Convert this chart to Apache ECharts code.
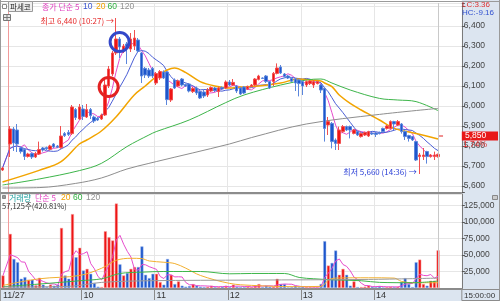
<!DOCTYPE html>
<html><head><meta charset="utf-8">
<script src="https://cdn.jsdelivr.net/npm/echarts@6/dist/echarts.min.js"></script>
<style>html,body{margin:0;padding:0;background:#fff}#c{width:500px;height:301px}</style>
</head><body><div id="c"></div>
<script>
// ---- data ----
const hourLabels = {0:'11/27', 22:'10', 42:'11', 62:'12', 82:'13', 102:'14'};
const dayStartIndex = 2;
// [open, close, low, high]  (k0 = previous bar, k1 = gap)
const ohlc = [
[5680,5690,5675,5695], null,
[5810,5885,5745,5900],[5885,5815,5775,5895],[5880,5810,5770,5910],[5790,5772,5762,5798],
[5783,5748,5730,5790],[5748,5760,5742,5766],[5762,5745,5735,5768],[5745,5762,5740,5770],
[5760,5782,5755,5822],[5790,5780,5772,5795],[5792,5786,5780,5797],[5784,5800,5778,5806],
[5810,5795,5790,5815],[5800,5794,5790,5805],[5792,5850,5786,5900],[5862,5852,5845,5870],
[5868,5858,5850,5880],[5862,5995,5855,6005],[5982,5942,5930,5990],[5935,5995,5930,6010],
[5985,5948,5930,6005],[5945,5982,5940,6010],[5982,5952,5935,5990],[5945,5925,5915,5952],
[5938,5930,5925,5945],[5935,5955,5930,5962],[5955,6105,5950,6135],[6100,6185,6090,6200],
[6160,6265,6150,6275],[6265,6335,6255,6440],[6335,6295,6240,6345],[6275,6300,6265,6310],
[6310,6290,6210,6320],[6285,6335,6270,6365],[6300,6340,6280,6380],[6330,6275,6265,6340],
[6265,6150,6115,6270],[6188,6155,6140,6195],[6180,6150,6140,6190],[6188,6150,6140,6195],
[6115,6162,6105,6170],[6140,6172,6130,6180],[6170,6140,6135,6178],[6170,6032,6005,6175],
[6030,6085,6020,6090],[6130,6090,6085,6138],[6100,6125,6095,6132],[6135,6105,6098,6140],
[6108,6100,6095,6112],[6110,6075,6068,6115],[6072,6088,6065,6095],[6090,6065,6055,6097],
[6072,6040,6035,6078],[6070,6050,6040,6080],[6055,6080,6045,6090],[6075,6092,6070,6098],
[6090,6078,6070,6095],[6072,6090,6045,6097],[6092,6085,6080,6098],[6090,6120,6085,6128],
[6120,6105,6100,6130],[6105,6118,6100,6135],[6100,6075,6065,6105],[6090,6060,6055,6095],
[6095,6065,6060,6100],[6085,6098,6080,6102],[6098,6105,6095,6110],[6105,6135,6100,6140],
[6133,6150,6128,6156],[6140,6138,6135,6143],[6150,6122,6115,6155],[6122,6090,6085,6125],
[6122,6163,6100,6170],[6163,6190,6158,6213],[6195,6165,6160,6205],[6160,6148,6143,6165],
[6150,6140,6135,6155],[6138,6124,6120,6142],[6135,6115,6075,6140],[6130,6112,6048,6135],
[6122,6100,6055,6128],[6105,6122,6095,6128],[6112,6125,6105,6130],[6105,6122,6090,6130],
[6112,6122,6108,6126],[6105,6080,6065,6110],[6088,5888,5822,6092],[5905,5922,5855,5945],
[5913,5822,5788,5920],[5830,5813,5780,5838],[5813,5880,5780,5897],[5872,5897,5865,5905],
[5897,5880,5875,5902],[5897,5880,5838,5902],[5863,5880,5858,5885],[5872,5855,5850,5878],
[5847,5863,5842,5868],[5855,5867,5850,5872],[5850,5872,5845,5876],[5865,5860,5855,5870],
[5865,5858,5845,5870],[5868,5862,5858,5872],[5888,5872,5868,5892],[5888,5900,5882,5905],
[5888,5922,5882,5928],[5922,5910,5880,5926],[5905,5922,5900,5930],[5910,5872,5862,5915],
[5872,5847,5830,5878],[5852,5838,5822,5856],[5847,5830,5825,5850],[5822,5730,5725,5826],
[5747,5755,5660,5765],[5747,5755,5730,5790],[5772,5747,5712,5776],[5747,5755,5742,5760],
[5747,5755,5730,5772],[5747,5758,5742,5762]
];
const volumes = [
19000,null,82000,44000,39000,14000,16500,12600,12600,4000,
15500,5000,1500,5000,3500,5000,91000,19000,14000,112000,
46700,61000,26500,29000,21500,7500,2000,1500,86000,77000,
72000,128000,35900,19000,22700,29000,31800,31800,63000,20000,
15000,21500,21500,9000,5000,44000,20000,6000,10000,3500,
2000,3000,6000,3500,2000,1500,2000,3500,1500,1500,
2000,3500,1500,5000,2000,1500,1500,2000,1500,3500,
6000,1500,3500,2000,2000,14000,6000,6000,1000,1500,
3500,1500,2000,1500,1500,1000,1000,6000,71000,34000,
38000,56800,20000,29000,20000,3500,10000,1500,1500,2000,
3500,2000,1500,3000,1000,1500,2000,1500,2000,9000,
15000,6000,1500,39000,43000,6000,3500,11000,11000,57125
];
// moving averages: [barIndex, value]
const ma20Pts = [[0,5620],[10,5678],[16,5722],[21,5810],[23,5830],[27,5875],[31,5945],[36,6055],[39,6100],[42,6147],[45,6180],[47,6190],[50,6168],[54,6122],[58,6100],[62,6090],[65,6095],[70,6100],[76,6115],[81,6135],[84,6130],[87,6125],[88,6115],[90,6097],[92,6055],[95,6013],[98,5980],[101,5950],[103,5930],[107,5888],[113,5863],[119,5835]];
const ma60Pts = [[0,5605],[10,5635],[21,5677],[27,5713],[34,5797],[40,5855],[42,5872],[51,5930],[61,6017],[66,6055],[76,6105],[83,6130],[87,6135],[90,6115],[95,6080],[103,6038],[108,6030],[113,6022],[119,5977]];
const ma120Pts = [[0,5590],[10,5592],[20,5613],[27,5640],[34,5685],[40,5713],[42,5722],[62,5810],[68,5842],[83,5910],[103,5958],[119,5988]];
const volMa20Pts = [[0,4000],[10,14000],[21,19000],[27,30000],[31,42000],[35,45000],[38,44500],[40,41000],[44,39000],[47,37000],[50,30000],[54,19000],[62,7000],[68,4000],[80,2000],[87,2500],[89,12000],[91,15000],[100,15500],[107,15000],[109,10000],[112,8000],[119,8000]];
const volMa60Pts = [[0,2000],[10,6000],[21,11000],[27,14000],[32,22000],[38,24000],[44,25000],[54,25000],[62,21500],[68,22000],[77,22000],[81,16000],[85,14000],[90,12500],[98,11000],[103,8500],[112,8000],[119,10500]];
const volMa120Pts = [[0,1500],[18,2500],[27,8500],[40,11000],[68,12000],[100,13000],[119,15000]];
const highInfo = {idx:31, price:6440, text:'최고 6,440 (10:27) →'};
const lowInfo = {idx:114, price:5660, text:'최저 5,660 (14:36) →'};
const currentPrice = 5850;
const priceLabelText = '5,850', pctText = '1.74%';
const lcText = 'LC:3.36', hcText = 'HC:-9.16';
const volInfoText = '57,125주(420.81%)';
const timeText = '15:00:00';

// ---- build ----
const N = 126;
const cats = [];
for (let k = 0; k < N; k++) {
  if (k === 0) cats.push('11/27 15:30');
  else if (k === 1) cats.push('11/28');
  else { const m = 540 + (k - 2) * 3; cats.push(String(Math.floor(m/60)).padStart(2,'0') + ':' + String(m%60).padStart(2,'0')); }
}
function sma(vals, n) {
  const out = [], buf = [];
  for (const v of vals) {
    if (v == null) { out.push('-'); continue; }
    buf.push(v); if (buf.length > n) buf.shift();
    out.push(Math.round(buf.reduce((a,b)=>a+b,0) / buf.length * 10) / 10);
  }
  return out;
}
const closes = ohlc.map(d => d ? d[1] : null);
const ma5 = sma(closes, 5), ma10 = sma(closes, 10);
const volMa5 = sma(volumes, 5);
const UP = '#ee1515', DOWN = '#1d56cc';
const volData = volumes.map((v,i) => v == null ? {value:'-'} : ({value:v, itemStyle:{
  color: (ohlc[i] && ohlc[i][1] >= ohlc[i][0]) ? UP : DOWN,
  borderColor: (ohlc[i] && ohlc[i][1] >= ohlc[i][0]) ? '#f7a6a6' : '#9cb8ec', borderWidth:0.5}}));
const candleData = ohlc.map(d => d ? d : ['-','-','-','-']);

const hourSet = new Set([22,42,62,82,102]);
const splitIdx = (i) => i === dayStartIndex || hourSet.has(i);
const splitColors = ['#f19a9a'].concat(new Array(12).fill('#e6e6e6'));
const fmt = v => String(v).replace(/\B(?=(\d{3})+(?!\d))/g, ',');
const KF = '"Noto Sans CJK KR", sans-serif';
const NF = '"Liberation Sans", Arial, sans-serif';

const gridL = 0.67, gridW = N * 3.66;
const lineS = (name, data, color, xi, yi, w, smooth) => ({
  name, type:'line', data, xAxisIndex:xi, yAxisIndex:yi, showSymbol:false, symbol:'none',
  connectNulls:true, smooth: smooth || false, silent:true, animation:false,
  lineStyle:{color, width:w||1}, z:3
});

const chart = echarts.init(document.getElementById('c'), null, {renderer:'canvas', width:500, height:301});
const option = {
  animation:false,
  backgroundColor:'#ffffff',
  grid:[
    {left:gridL, width:gridW, top:3, height:189},
    {left:gridL, width:gridW, top:194, height:94}
  ],
  xAxis:[
    {type:'category', gridIndex:0, data:cats, boundaryGap:true,
     axisLine:{show:false}, axisTick:{show:false}, axisLabel:{show:false},
     splitLine:{show:true, interval:(i)=>splitIdx(i), lineStyle:{color:splitColors, width:1}}},
    {type:'category', gridIndex:1, data:cats, boundaryGap:true,
     axisLine:{show:true, lineStyle:{color:'#8a8a8a'}},
     axisTick:{show:true, interval:(i)=>hourSet.has(i), length:12, lineStyle:{color:'#8a8a8a'}},
     axisLabel:{show:true, interval:(i)=>hourLabels[i] !== undefined, formatter:(v,i)=>hourLabels[i] || '',
       align:'left', margin:3, fontSize:9, fontFamily:NF, color:'#333'},
     splitLine:{show:true, interval:(i)=>splitIdx(i), lineStyle:{color:splitColors, width:1}}}
  ],
  yAxis:[
    {type:'value', gridIndex:0, position:'right', min:5570, max:6515, minInterval:100, maxInterval:100,
     axisLine:{show:true, lineStyle:{color:'#7a7a7a'}},
     axisTick:{show:true, length:3, lineStyle:{color:'#555'}},
     axisLabel:{margin:2, fontSize:8.5, fontFamily:NF, color:'#444',
       formatter:(v)=> (v % 100 === 0 && v >= 5600 && v <= 6400) ? fmt(v) : ''},
     splitLine:{show:true, lineStyle:{color:'#e6e6e6'}}},
    {type:'value', gridIndex:1, position:'right', min:0, max:142424, interval:25000,
     axisLine:{show:true, lineStyle:{color:'#7a7a7a'}},
     axisTick:{show:true, length:3, lineStyle:{color:'#555'}},
     axisLabel:{margin:2, fontSize:8.5, fontFamily:NF, color:'#444', showMinLabel:false, showMaxLabel:false,
       formatter:(v)=> (v > 0 && v % 25000 === 0) ? fmt(v) : ''},
     splitLine:{show:true, lineStyle:{color:'#e6e6e6'}}}
  ],
  series:[
    {name:'price', type:'candlestick', xAxisIndex:0, yAxisIndex:0, data:candleData, barWidth:3, z:4,
     itemStyle:{color:UP, color0:DOWN, borderColor:'#f25050', borderColor0:'#5b86dc', borderWidth:1},
     markLine:{silent:true, symbol:'none', label:{show:false}, animation:false,
       lineStyle:{color:'#c9c9c9', width:1, type:'solid'}, data:[{xAxis:119}]},
     markPoint:{silent:true, animation:false, data:[
       {coord:[highInfo.idx, highInfo.price], symbolSize:0,
        label:{show:true, position:'left', distance:2, offset:[0,3], formatter:highInfo.text, color:'#e52a2a', fontSize:8, fontFamily:KF}},
       {coord:[lowInfo.idx, lowInfo.price], symbolSize:0,
        label:{show:true, position:'left', distance:3, offset:[0,-2], formatter:lowInfo.text, color:'#2a3fd6', fontSize:8, fontFamily:KF}},
       {coord:[31.7, 6320], symbol:'circle', symbolSize:19, label:{show:false},
        itemStyle:{color:'rgba(0,0,0,0)', borderColor:'#3347c9', borderWidth:3}},
       {coord:[29.1, 6095], symbol:'circle', symbolSize:19, label:{show:false},
        itemStyle:{color:'rgba(0,0,0,0)', borderColor:'#e32222', borderWidth:3}}
     ]}},
    lineS('ma5', ma5, '#e64ccc', 0, 0, 1),
    lineS('ma10', ma10, '#4a5ed6', 0, 0, 1),
    lineS('ma20', ma20Pts, '#f2a400', 0, 0, 1.5, 0.35),
    lineS('ma60', ma60Pts, '#3db54a', 0, 0, 1, 0.35),
    lineS('ma120', ma120Pts, '#8e8e8e', 0, 0, 1, 0.35),
    {name:'volume', type:'bar', xAxisIndex:1, yAxisIndex:1, data:volData, barWidth:3, z:2,
     markLine:{silent:true, symbol:'none', label:{show:false}, animation:false,
       lineStyle:{color:'#c9c9c9', width:1, type:'solid'}, data:[{xAxis:119}]}},
    lineS('vma5', volMa5, '#e64ccc', 1, 1, 1),
    lineS('vma20', volMa20Pts, '#f2b030', 1, 1, 1, 0.35),
    lineS('vma60', volMa60Pts, '#3db54a', 1, 1, 1, 0.35),
    lineS('vma120', volMa120Pts, '#9a9a9a', 1, 1, 1, 0.35)
  ]
};
chart.setOption(option);

// annotations / frame
const rightX = gridL + gridW;
const yCur = chart.convertToPixel({yAxisIndex:0}, currentPrice);
const xLast = chart.convertToPixel({xAxisIndex:0}, 119);
const t = (text, x, y, fill, size, fam) => ({type:'text', x, y, z:100,
  style:{text, fill, font: (size||8) + 'px ' + (fam||KF), verticalAlign:'middle', align:'left'}});
chart.setOption({graphic:[
  {type:'rect', z:-10, shape:{x:rightX, y:0, width:500-rightX, height:301}, style:{fill:'#dce5f0'}},
  {type:'rect', z:-10, shape:{x:0, y:289, width:500, height:12}, style:{fill:'#dce5f0'}},
  {type:'line', z:50, shape:{x1:0, y1:1.5, x2:500, y2:1.5}, style:{stroke:'#9a9a9a', lineWidth:1}},
  {type:'line', z:50, shape:{x1:0, y1:193, x2:rightX, y2:193}, style:{stroke:'#8c8c8c', lineWidth:2}},
  {type:'line', z:50, shape:{x1:0, y1:289.5, x2:500, y2:289.5}, style:{stroke:'#8c8c8c', lineWidth:1}},
  {type:'line', z:50, shape:{x1:0.5, y1:0, x2:0.5, y2:301}, style:{stroke:'#9a9a9a', lineWidth:1}},
  {type:'line', z:50, shape:{x1:499.5, y1:0, x2:499.5, y2:301}, style:{stroke:'#9a9a9a', lineWidth:1}},
  {type:'rect', z:60, shape:{x:2.5, y:4.5, width:4, height:4}, style:{fill:'#fff', stroke:'#888'}},
  {type:'rect', z:60, shape:{x:8.5, y:1.5, width:24, height:10}, style:{fill:'#efefef', stroke:'#9a9a9a'}},
  t('파세코', 10, 7, '#222', 7.5),
  t('종가 단순 5', 42, 7, '#e040c0', 8),
  t('10', 83, 7, '#3a55d0', 8.5, NF),
  t('20', 96, 7, '#f0a000', 8.5, NF),
  t('60', 107.5, 7, '#30b040', 8.5, NF),
  t('120', 120, 7, '#909090', 8.5, NF),
  {type:'rect', z:60, shape:{x:3.5, y:14.5, width:7, height:6}, style:{fill:'#e8e8e8', stroke:'#777'}},
  {type:'line', z:61, shape:{x1:7, y1:14.5, x2:7, y2:20.5}, style:{stroke:'#777'}},
  {type:'line', z:61, shape:{x1:3.5, y1:17.5, x2:10.5, y2:17.5}, style:{stroke:'#777'}},
  t(lcText, 462, 5, '#e03030', 8, NF),
  t(hcText, 462, 13, '#3050d0', 8, NF),
  {type:'line', z:60, shape:{x1:xLast+1, y1:yCur, x2:xLast+5, y2:yCur}, style:{stroke:'#e02020', lineWidth:1}},
  {type:'rect', z:60, shape:{x:rightX, y:yCur-4.5, width:498-rightX, height:9}, style:{fill:'#e81818'}},
  t(priceLabelText, 465, yCur, '#ffffff', 8.5, NF),
  t(pctText, 463, yCur+9, '#e03030', 8.5, NF),
  {type:'rect', z:60, shape:{x:2.5, y:195.5, width:3, height:3}, style:{fill:'#999', stroke:'#888'}},
  t('거래량', 9, 197.5, '#20a0a0', 8),
  t('단순 5', 35, 197.5, '#e040c0', 8),
  t('20', 61, 197.5, '#f0a000', 8.5, NF),
  t('60', 73, 197.5, '#30b040', 8.5, NF),
  t('120', 86, 197.5, '#909090', 8.5, NF),
  t(volInfoText, 2, 206.5, '#333', 7.5),
  {type:'rect', z:60, shape:{x:492.5, y:195.5, width:5, height:4}, style:{fill:'#ccc', stroke:'#888'}},
  {type:'rect', z:60, shape:{x:rightX, y:289.5, width:499.5-rightX, height:11}, style:{fill:'#dce5f0', stroke:'#8c8c8c'}},
  t(timeText, 464, 295.5, '#333', 8, NF)
]});
</script></body></html>
